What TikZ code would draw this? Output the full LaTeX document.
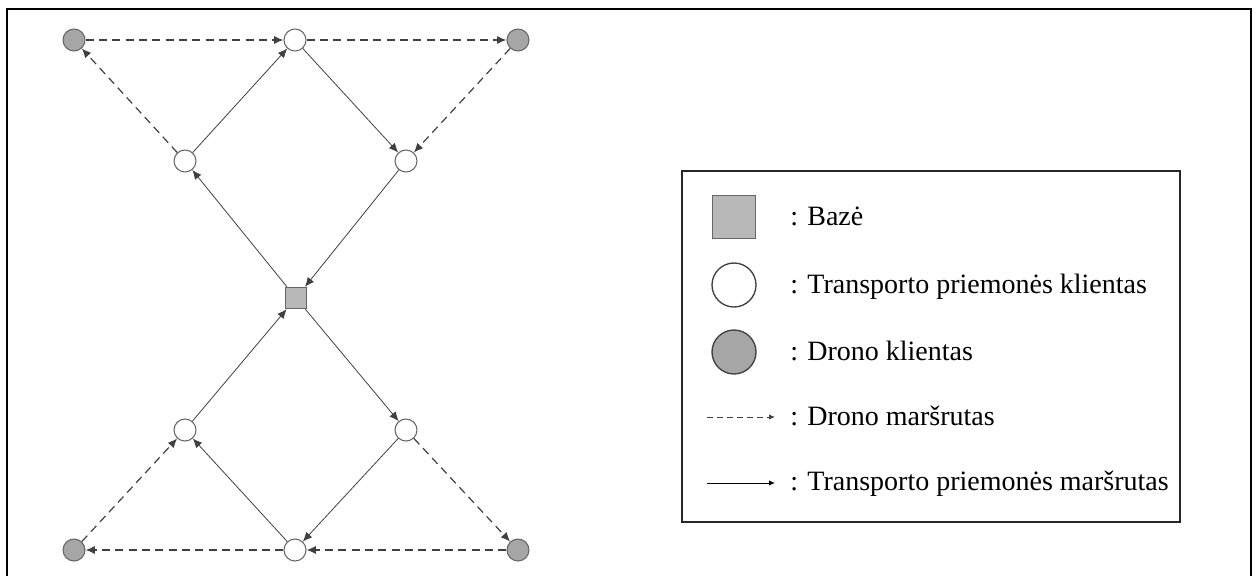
\documentclass[tikz,border=0pt]{standalone}
\usepackage{fontspec}
\setmainfont{Liberation Serif}
\usepackage{tikz}
\usetikzlibrary{arrows.meta}

\begin{document}
\begin{tikzpicture}[->,>={Latex[length=7pt,width=6pt]},x=0.75pt,y=-0.75pt]
\tikzstyle{client}=[circle,draw=black!60,line width=0.8pt,minimum size=16.5pt,inner sep=0pt]
\tikzstyle{vclient}=[client,fill=white]
\tikzstyle{dclient}=[client,fill=black!35]
\tikzstyle{depot}=[rectangle,draw=black!60,line width=0.8pt,fill=black!28,minimum size=16pt,inner sep=0pt]
\tikzstyle{vroute}=[draw=black!75,line width=0.6pt]
\tikzstyle{droute}=[draw=black!75,line width=0.9pt,dash pattern=on 6pt off 4pt]
\tikzstyle{legtext}=[anchor=base west,inner sep=0pt]
\tikzset{font=\fontsize{21pt}{25pt}\selectfont}

  \useasboundingbox (0,0) rectangle (1259,575);
  \draw[-,line width=1.6pt] (7,580) -- (7,9) -- (1251,9) -- (1251,580);

  % base and clients
  \node[depot]    (base) at (296,298) {};
  \node[vclient]  (l1)   at (185,161) {};
  \node[vclient]  (top)  at (295,40)  {};
  \node[vclient]  (r1)   at (406,161) {};
  \node[vclient]  (l2)   at (185,430) {};
  \node[vclient]  (bot)  at (295,550) {};
  \node[vclient]  (r2)   at (406,430) {};
  \node[dclient]  (dtl)  at (74,40)   {};
  \node[dclient]  (dtr)  at (518,40)  {};
  \node[dclient]  (dbl)  at (74,550)  {};
  \node[dclient]  (dbr)  at (518,550) {};

  % vehicle route
  \path
  (base) edge [vroute]   (l1)
  (l1)   edge [vroute]   (top)
  (top)  edge [vroute]   (r1)
  (r1)   edge [vroute]   (base)
  (base) edge [vroute]   (r2)
  (r2)   edge [vroute]   (bot)
  (bot)  edge [vroute]   (l2)
  (l2)   edge [vroute]   (base)
  ; %end path

  % drone sorties
  \path
  (l1)   edge [droute]   (dtl)
  (dtl)  edge [droute]   (top)
  (top)  edge [droute]   (dtr)
  (dtr)  edge [droute]   (r1)
  (r2)   edge [droute]   (dbr)
  (dbr)  edge [droute]   (bot)
  (bot)  edge [droute]   (dbl)
  (dbl)  edge [droute]   (l2)
  ; %end path

  % legend
  \node[draw=black!85,line width=1.4pt,minimum width=373.5pt,minimum height=263pt,inner sep=0pt] (legend) at (931,346.5) {};
  \node[depot,minimum size=32pt,line width=1pt]                 (lbase)  at (734,217) {};
  \node[vclient,minimum size=33pt,line width=1pt,draw=black!75] (lvc)    at (734,285) {};
  \node[dclient,minimum size=33pt,line width=1pt,draw=black!75] (ldc)    at (734,352) {};
  \coordinate (ld1) at (707,417);
  \coordinate (ld2) at (775,417);
  \coordinate (lv1) at (707,483);
  \coordinate (lv2) at (775,483);
  \draw[droute,line width=0.7pt,dash pattern=on 4.5pt off 3pt,-{Latex[length=4.5pt,width=4pt]}] (ld1) -- (ld2);
  \draw[vroute,draw=black,line width=0.7pt,-{Latex[length=4.5pt,width=4pt]}] (lv1) -- (lv2);
  \node[legtext] (tbase) at (790,225) {: Bazė};
  \node[legtext] (tvc)   at (790,293) {: Transporto priemonės klientas};
  \node[legtext] (tdc)   at (790,360) {: Drono klientas};
  \node[legtext] (tdr)   at (790,425) {: Drono maršrutas};
  \node[legtext] (tvr)   at (790,490) {: Transporto priemonės maršrutas};
\end{tikzpicture}
\end{document}
